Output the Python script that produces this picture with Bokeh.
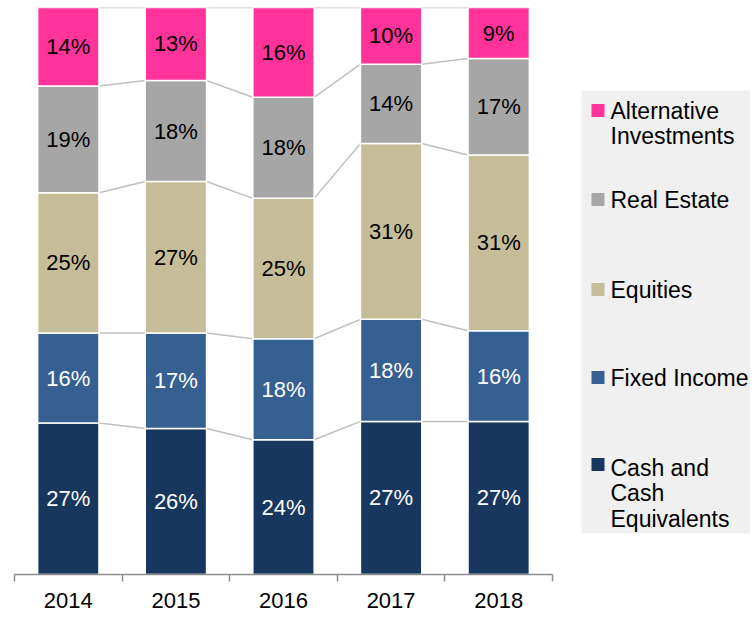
import numpy as np
from bokeh.plotting import figure
from bokeh.models import Range1d, FixedTicker, ColumnDataSource
from bokeh.core.properties import value
from bokeh.embed import file_html
from bokeh.resources import INLINE

# ---- data ----
years = ["2014", "2015", "2016", "2017", "2018"]
cash = [27, 26, 24, 27, 27]
fixed_income = [16, 17, 18, 18, 16]
equities = [25, 27, 25, 31, 31]
real_estate = [19, 18, 18, 14, 17]
alternative = [14, 13, 16, 10, 9]

series_names = ["Cash and\nCash\nEquivalents", "Fixed Income", "Equities",
                "Real Estate", "Alternative\nInvestments"]
series_values = [cash, fixed_income, equities, real_estate, alternative]

# ---- styles ----
colors = ["#17375E", "#376092", "#C4BD97", "#A6A6A6", "#FF3399"]
text_colors = ["white", "white", "black", "black", "black"]
FONT = value("Liberation Sans")

W, H = 750, 617
LEFT, TOP, BOTTOM = 14, 7, 43
AXIS_PX = 538                      # pixel width occupied by the 5 categories
frame_w = W - LEFT

vals = np.array(series_values, dtype=float)
shares = vals / vals.sum(axis=0) * 100.0
tops = np.cumsum(shares, axis=0)
bottoms = tops - shares
n = len(years)
xs = np.arange(n) + 0.5
bar_w = 0.57

p = figure(width=W, height=H, x_range=Range1d(0, n * frame_w / AXIS_PX),
           y_range=Range1d(0, 100), output_backend="svg", toolbar_location=None,
           y_axis_location=None, min_border_left=LEFT, min_border_right=0,
           min_border_top=TOP, min_border_bottom=BOTTOM, outline_line_color=None)
p.xgrid.visible = False
p.ygrid.visible = False

# connector lines between bars
for k in range(len(series_values)):
    p.segment(x0=xs[:-1] + bar_w / 2, y0=tops[k][:-1],
              x1=xs[1:] - bar_w / 2, y1=tops[k][1:],
              line_color="#BFBFBF", line_width=1.5)

for k in range(len(series_values)):
    src = ColumnDataSource(dict(
        x=xs, top=tops[k], bottom=bottoms[k],
        mid=(tops[k] + bottoms[k]) / 2,
        label=[f"{v}%" for v in series_values[k]]))
    p.vbar(x="x", top="top", bottom="bottom", width=bar_w, source=src,
           fill_color=colors[k], line_color="white", line_width=1.5)
    p.text(x="x", y="mid", text="label", source=src, text_color=text_colors[k],
           text_font=FONT, text_font_size="22px", text_align="center",
           text_baseline="middle")

ax = p.xaxis[0]
ax.bounds = (0, n)
ax.ticker = FixedTicker(ticks=list(xs), minor_ticks=list(range(n + 1)))
ax.major_label_overrides = {float(x): y for x, y in zip(xs, years)}
ax.axis_line_color = "#8C8C8C"
ax.axis_line_width = 1.5
ax.major_tick_line_color = None
ax.major_tick_out = 0
ax.major_tick_in = 0
ax.minor_tick_line_color = "#8C8C8C"
ax.minor_tick_line_width = 1.5
ax.minor_tick_out = 7
ax.minor_tick_in = 0
ax.major_label_standoff = 11
ax.major_label_text_font = "Liberation Sans"
ax.major_label_text_font_size = "22px"
ax.major_label_text_color = "black"

# ---- legend (pixel-space helper ranges) ----
p.extra_x_ranges = {"px": Range1d(LEFT, W)}
p.extra_y_ranges = {"px": Range1d(H - BOTTOM, TOP)}
p.quad(left=581, right=W, top=90, bottom=533, fill_color="#F0F0F0",
       line_color=None, x_range_name="px", y_range_name="px")

order = [4, 3, 2, 1, 0]
marker_y = [110, 199, 289, 377, 464]
text_y = [123, 199, 289, 377, 493]
p.scatter(x=[597.5] * 5, y=marker_y, marker="square", size=13,
          fill_color=[colors[k] for k in order], line_color=None,
          x_range_name="px", y_range_name="px")
p.text(x=[610] * 5, y=text_y, text=[series_names[k] for k in order],
       text_font=FONT, text_font_size="23px", text_color="black",
       text_align="left", text_baseline="middle", text_line_height=0.99,
       x_range_name="px", y_range_name="px")

open("out.html", "w").write(file_html(p, INLINE))
